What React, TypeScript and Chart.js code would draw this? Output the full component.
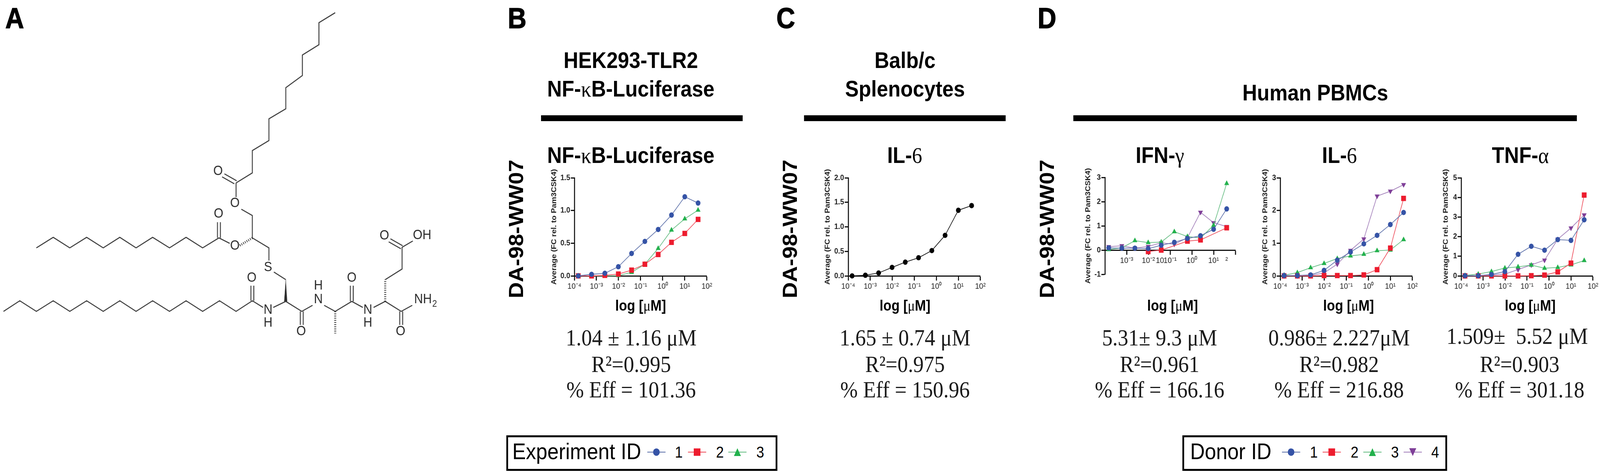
import React, { useEffect, useRef } from "react";
import { Chart, registerables } from "chart.js";

Chart.register(...registerables);

const SANS = '"Liberation Sans", Arial, sans-serif';
const SERIF = '"Liberation Serif", "Times New Roman", serif';

// the layout is measured on the 4563 px reference; the browser window came out
// only 4096 px wide, so the page is squeezed to whatever width it actually gets
const PAGE_W = 4563;
const PAGE_H = 1213;

const BLUE = "#3553a6";
const RED = "#ed1c2e";
const GREEN = "#22b14c";
const PURPLE = "#7f3f98";
const BLUE_LINE = "#5a6ea8";
const RED_LINE = "#ee4a58";
const GREEN_LINE = "#62bb80";
const PURPLE_LINE = "#a07cb8";

// 4-fold dilution series, uM
const doses = [0.00015, 0.0006, 0.0024, 0.0098, 0.039, 0.156, 0.625, 2.5, 10, 40];

const decadeTicks = [1e-4, 1e-3, 1e-2, 1e-1, 1, 10, 100];
const decadeLabels = ["10⁻⁴", "10⁻³", "10⁻²", "10⁻¹", "10⁰", "10¹", "10²"];

// IFN panel has its labels knocked about in the original
const ifnTicks = [1e-4, 1e-3, 1e-2, 0.034, 1e-1, 1, 10, 40, 100];
const ifnLabels = ["", "10⁻³", "10⁻²", "10", "10⁻¹", "10⁰", "10¹", "²", ""];
const ifnHiddenTicks = [0.034, 40];

// B: NF-kB luciferase
const nfkb1 = [0.0, 0.024, 0.04, 0.14, 0.343, 0.527, 0.71, 0.93, 1.21, 1.114];
const nfkb2 = [0.0, 0.0, 0.008, 0.028, 0.088, 0.178, 0.327, 0.513, 0.649, 0.864];
const nfkb3 = [0.0, 0.0, 0.0, 0.004, 0.054, 0.178, 0.42, 0.7, 0.872, 1.006];

// C: Balb/c IL-6
const balbIl6 = [0.0, 0.013, 0.06, 0.173, 0.28, 0.37, 0.516, 0.827, 1.338, 1.433];

// D: IFN-gamma
const ifn1 = [0.09, 0.08, 0.08, 0.06, 0.2, 0.32, 0.48, 0.59, 0.86, 1.7];
const ifn2 = [null, null, null, -0.06, 0.0, null, 0.37, 0.42, null, 0.92];
const ifn3 = [0.02, 0.09, 0.39, 0.31, 0.33, 0.76, 0.56, 0.5, 1.02, 2.75];
const ifn4 = [0.14, 0.18, 0.08, 0.15, 0.3, 0.24, 0.51, 1.56, 1.13, 0.97];

// D: IL-6
const il61 = [0.01, 0.01, 0.03, 0.17, 0.48, 0.73, 0.98, 1.24, 1.57, 1.94];
const il62 = [0.0, 0.0, 0.0, 0.01, 0.01, 0.01, 0.03, 0.19, 0.85, 2.37];
const il63 = [0.02, 0.1, 0.25, 0.38, 0.53, 0.61, 0.66, 0.77, 0.79, 1.11];
const il64 = [0.0, 0.0, 0.01, 0.09, 0.36, 0.78, 1.13, 2.44, 2.59, 2.79];

// D: TNF-alpha
const tnf1 = [0.01, 0.01, 0.07, 0.22, 1.1, 1.51, 1.31, 1.85, 1.81, 2.86];
const tnf2 = [0.0, 0.0, 0.0, 0.0, 0.0, 0.01, 0.04, 0.2, 0.65, 4.12];
const tnf3 = [0.02, 0.09, 0.22, 0.4, 0.46, 0.55, 0.39, 0.43, 0.56, 0.78];
const tnf4 = [0.0, 0.01, 0.04, 0.09, 0.32, 0.56, 0.8, 1.87, 2.44, 3.11];

// molecule in panel A, in a 1568 x 1568 drawing space
const moleculeBonds = [
  [[812, 605], [868, 572], [868, 498], [925, 465], [925, 393], [983, 360], [983, 290], [1040, 250], [1040, 182], [1097, 148], [1097, 75], [1153, 42]],
  [[812, 605], [812, 652]],
  [[830, 692], [868, 713], [868, 787], [925, 820], [925, 862]],
  [[942, 900], [983, 925]],
  [[790, 805], [753, 787], [697, 820], [640, 785], [583, 820], [525, 785], [468, 820], [412, 785], [355, 820], [298, 785], [240, 820], [183, 785], [125, 820]],
  [[12, 1030], [68, 995], [125, 1030], [183, 995], [240, 1030], [298, 995], [355, 1030], [412, 995], [468, 1030], [525, 995], [583, 1030], [640, 995], [697, 1030], [755, 995], [812, 1030], [868, 995], [905, 1017]],
  [[940, 1017], [983, 997], [1038, 1030], [1075, 1010]],
  [[1115, 1010], [1153, 1030], [1210, 997], [1248, 1017]],
  [[1285, 1017], [1325, 997], [1380, 1030], [1418, 1010]],
  [[1325, 925], [1383, 890], [1383, 818], [1420, 797]],
  // double bonds
  [[814, 598], [772, 575]],
  [[806, 608], [764, 585]],
  [[748, 787], [748, 735]],
  [[758, 787], [758, 735]],
  [[863, 995], [863, 945]],
  [[873, 995], [873, 945]],
  [[1033, 1030], [1033, 1075]],
  [[1043, 1030], [1043, 1075]],
  [[1205, 997], [1205, 945]],
  [[1215, 997], [1215, 945]],
  [[1375, 1030], [1375, 1075]],
  [[1385, 1030], [1385, 1075]],
  [[1385, 813], [1343, 790]],
  [[1379, 823], [1337, 800]],
];
const moleculeHashes = [
  [[868, 787], [825, 812]],
  [[1153, 1030], [1153, 1103]],
  [[1325, 997], [1325, 925]],
];
const moleculeWedge = [[983, 925], [978, 997], [988, 997]];
const atomLabels: [string, number, number][] = [
  ["O", 750, 567], ["O", 808, 672], ["O", 752, 708], ["O", 808, 813], ["S", 922, 884],
  ["O", 866, 920], ["N", 922, 1025], ["H", 922, 1068], ["O", 1036, 1097], ["H", 1095, 945],
  ["N", 1095, 990], ["O", 1210, 920], ["N", 1265, 1025], ["H", 1265, 1068], ["O", 1378, 1097],
  ["O", 1322, 780], ["OH", 1452, 778], ["NH", 1455, 990],
];
const subLabels: [string, number, number][] = [["2", 1495, 1006]];

const atomPlugin = {
  id: "atoms",
  afterDatasetsDraw(chart: any) {
    const { ctx, scales } = chart;
    ctx.save();
    ctx.fillStyle = "#2b2b2b";
    ctx.textAlign = "center";
    ctx.textBaseline = "middle";
    ctx.font = `35px ${SANS}`;
    atomLabels.forEach(([t, x, y]) => ctx.fillText(t, scales.x.getPixelForValue(x), scales.y.getPixelForValue(y)));
    ctx.font = `24px ${SANS}`;
    subLabels.forEach(([t, x, y]) => ctx.fillText(t, scales.x.getPixelForValue(x), scales.y.getPixelForValue(y)));
    ctx.restore();
  },
};

const toPts = (line: number[][]) => line.map(([x, y]) => ({ x, y }));

const Molecule: React.FC = () => {
  const ref = useRef<HTMLCanvasElement | null>(null);
  useEffect(() => {
    if (!ref.current) return;
    const base = { showLine: true, pointRadius: 0, tension: 0, clip: false as const, borderColor: "#3a3a3a" };
    const chart = new Chart(ref.current, {
      type: "scatter",
      data: {
        datasets: [
          ...moleculeBonds.map((l) => ({ ...base, data: toPts(l), borderWidth: 2.6 })),
          ...moleculeHashes.map((l) => ({ ...base, data: toPts(l), borderWidth: 6, borderDash: [2, 3.5] })),
          { ...base, data: toPts(moleculeWedge), borderWidth: 1, fill: "shape", backgroundColor: "#2b2b2b" },
        ] as any,
      },
      options: {
        animation: false,
        responsive: false,
        devicePixelRatio: 1,
        events: [],
        layout: { padding: 0 },
        plugins: { legend: { display: false }, tooltip: { enabled: false } },
        scales: {
          x: { display: false, min: 0, max: 1568 },
          y: { display: false, min: 0, max: 1568, reverse: true },
        },
      },
      plugins: [atomPlugin],
    });
    return () => chart.destroy();
  }, []);
  return <canvas ref={ref} width={1300} height={1213} style={{ position: "absolute", left: 0, top: 0 }} />;
};

type Series = { values: (number | null)[]; color: string; line: string; style: string; radius: number; rotation?: number };

const s1 = (values: (number | null)[]): Series => ({ values, color: BLUE, line: BLUE_LINE, style: "circle", radius: 6.8 });
const s2 = (values: (number | null)[]): Series => ({ values, color: RED, line: RED_LINE, style: "rect", radius: 9.6 });
const s3 = (values: (number | null)[]): Series => ({ values, color: GREEN, line: GREEN_LINE, style: "triangle", radius: 8 });
const s4 = (values: (number | null)[]): Series => ({ values, color: PURPLE, line: PURPLE_LINE, style: "triangle", radius: 8, rotation: 180 });

type PanelProps = {
  left: number;
  right: number;
  top: number;
  bottom: number;
  yMin: number;
  yMax: number;
  yStep: number;
  yDigits: number;
  titleGap: number;
  series: Series[];
  ticks?: number[];
  labels?: string[];
  hidden?: number[];
};

const LEFT_ROOM = 100;
const TOP_ROOM = 35;
const RIGHT_ROOM = 20;
const BOTTOM_ROOM = 60;

const Panel: React.FC<PanelProps> = ({ left, right, top, bottom, yMin, yMax, yStep, yDigits, titleGap, series, ticks = decadeTicks, labels = decadeLabels, hidden = [] }) => {
  const ref = useRef<HTMLCanvasElement | null>(null);
  useEffect(() => {
    if (!ref.current) return;
    const chart = new Chart(ref.current, {
      type: "scatter",
      data: {
        datasets: series.map((s) => ({
          data: doses.map((x, i) => ({ x, y: s.values[i] })).filter((p) => p.y !== null),
          showLine: true,
          tension: 0,
          clip: false,
          borderColor: s.line,
          borderWidth: 1.8,
          pointStyle: s.style,
          pointRadius: s.radius,
          pointRotation: s.rotation || 0,
          pointBackgroundColor: s.color,
          pointBorderColor: s.color,
          pointBorderWidth: 0,
        })) as any,
      },
      options: {
        animation: false,
        responsive: false,
        devicePixelRatio: 1,
        events: [],
        layout: { padding: { left: 0, top: TOP_ROOM, right: RIGHT_ROOM, bottom: BOTTOM_ROOM } },
        plugins: { legend: { display: false }, tooltip: { enabled: false } },
        scales: {
          x: {
            type: "logarithmic",
            position: { y: 0 } as any,
            min: 1e-4,
            max: 100,
            afterBuildTicks: (scale: any) => {
              scale.ticks = ticks.map((value) => ({ value }));
            },
            grid: {
              drawOnChartArea: false,
              tickLength: 10,
              tickWidth: 3,
              tickColor: (ctx: any) => (hidden.includes(ctx.tick?.value) ? "transparent" : "#111"),
            },
            border: { color: "#111", width: 3 },
            ticks: {
              autoSkip: false,
              maxRotation: 0,
              padding: 5,
              color: "#222",
              font: { family: SANS, size: 21 },
              callback: (value: any) => labels[ticks.indexOf(value)] ?? "",
            },
          },
          y: {
            min: yMin,
            max: yMax,
            afterFit: (scale: any) => {
              scale.width = LEFT_ROOM;
            },
            grid: { drawOnChartArea: false, tickLength: 10, tickWidth: 3, tickColor: "#111" },
            border: { color: "#111", width: 3 },
            ticks: {
              stepSize: yStep,
              padding: 2,
              color: "#222",
              font: { family: SANS, size: 20, weight: "bold" },
              callback: (value: any) => Number(value).toFixed(yDigits),
            },
            title: {
              display: true,
              text: "Average (FC rel. to Pam3CSK4)",
              color: "#222",
              font: { family: SANS, size: 20, weight: "bold" },
              padding: { top: LEFT_ROOM - titleGap - 12, bottom: 0 },
            },
          },
        },
      },
    });
    return () => chart.destroy();
  }, []);
  return (
    <canvas
      ref={ref}
      width={right - left + LEFT_ROOM + RIGHT_ROOM}
      height={bottom - top + TOP_ROOM + BOTTOM_ROOM}
      style={{ position: "absolute", left: left - LEFT_ROOM, top: top - TOP_ROOM }}
    />
  );
};

// text helper, x is the centre (or left edge), base the baseline
const T: React.FC<{ x: number; base: number; size: number; bold?: boolean; serif?: boolean; anchor?: string; color?: string; stroke?: number; children: React.ReactNode }> = ({ x, base, size, bold, serif, anchor = "center", color = "#000", stroke, children }) => (
  <div
    style={{
      position: "absolute",
      left: x,
      top: base - size * 0.85,
      lineHeight: `${size}px`,
      fontSize: size,
      fontFamily: serif ? SERIF : SANS,
      fontWeight: bold ? 700 : 400,
      color,
      whiteSpace: "pre",
      WebkitTextStroke: stroke ? `${stroke}px ${color}` : undefined,
      transform: anchor === "center" ? "translateX(-50%)" : undefined,
    }}
  >
    {children}
  </div>
);

const Greek: React.FC<{ children: React.ReactNode }> = ({ children }) => <span style={{ fontFamily: SERIF, fontWeight: 400 }}>{children}</span>;

const Vertical: React.FC<{ x: number; y: number }> = ({ x, y }) => (
  <div
    style={{
      position: "absolute",
      left: x,
      top: y,
      fontFamily: SANS,
      fontWeight: 700,
      fontSize: 57,
      whiteSpace: "nowrap",
      lineHeight: 1,
      transform: "translate(-50%, -50%) rotate(-90deg)",
    }}
  >
    DA-98-WW07
  </div>
);

const Rule: React.FC<{ x1: number; x2: number }> = ({ x1, x2 }) => <div style={{ position: "absolute", left: x1, width: x2 - x1, top: 295, height: 15, background: "#000" }} />;

const LegendBox: React.FC<{ x1: number; x2: number }> = ({ x1, x2 }) => (
  <div style={{ position: "absolute", left: x1, width: x2 - x1, top: 1114, height: 91, border: "5px solid #000", boxSizing: "border-box" }} />
);

const LegendKey: React.FC<{ x: number; kind: number; label: string; labelX: number }> = ({ x, kind, label, labelX }) => {
  const cy = 1156.5;
  const colors = [BLUE, RED, GREEN, PURPLE];
  const lines = [BLUE_LINE, RED_LINE, GREEN_LINE, PURPLE_LINE];
  return (
    <>
      <svg style={{ position: "absolute", left: x - 30, top: cy - 15 }} width={60} height={30} viewBox="-30 -15 60 30">
        <line x1={-26} x2={26} y1={0} y2={0} stroke={lines[kind]} strokeWidth={2} />
        {kind === 0 && <circle r={9.5} fill={colors[0]} />}
        {kind === 1 && <rect x={-9.5} y={-9.5} width={19} height={19} fill={colors[1]} />}
        {kind === 2 && <polygon points="0,-10 10,10 -10,10" fill={colors[2]} />}
        {kind === 3 && <polygon points="0,10 10,-10 -10,-10" fill={colors[3]} />}
      </svg>
      <T x={labelX} base={1171} size={40}>{label}</T>
    </>
  );
};

const Stats: React.FC<{ x: number; first: string; r2: string; eff: string; x2?: number; firstBase?: number }> = ({ x, first, r2, eff, x2, firstBase = 885 }) => (
  <>
    <T x={x} base={firstBase} size={60} serif color="#1a1a1a">{first}</T>
    <T x={x2 ?? x} base={953} size={60} serif color="#1a1a1a">{r2}</T>
    <T x={x2 ?? x} base={1018} size={60} serif color="#1a1a1a">{eff}</T>
  </>
);

const LogLabel: React.FC<{ x: number }> = ({ x }) => (
  <T x={x} base={795} size={38} bold>
    log [<Greek>μ</Greek>M]
  </T>
);

const App: React.FC = () => {
  const squeeze = Math.min(1, window.innerWidth / PAGE_W);
  return (
    <div style={{ position: "relative", width: PAGE_W * squeeze, height: PAGE_H, overflow: "hidden" }}>
      <style>{`body{margin:0}`}</style>
      <div style={{ position: "absolute", left: 0, top: 0, width: PAGE_W, height: PAGE_H, background: "#fff", transform: `scaleX(${squeeze})`, transformOrigin: "0 0" }}>
        <Molecule />

        <T x={15} base={73} size={74} bold anchor="left" stroke={1.5}>A</T>
        <T x={1448} base={73} size={74} bold anchor="left" stroke={1.5}>B</T>
        <T x={2214} base={73} size={74} bold anchor="left" stroke={1.5}>C</T>
        <T x={2959} base={73} size={74} bold anchor="left" stroke={1.5}>D</T>

        <T x={1799} base={174} size={58} bold>HEK293-TLR2</T>
        <T x={1799} base={247} size={58} bold>NF-<Greek>κ</Greek>B-Luciferase</T>
        <T x={2581} base={174} size={58} bold>Balb/c</T>
        <T x={2581} base={247} size={58} bold>Splenocytes</T>
        <T x={3751} base={257} size={58} bold>Human PBMCs</T>

        <Rule x1={1543} x2={2118} />
        <Rule x1={2293} x2={2868} />
        <Rule x1={3061} x2={4497} />

        <T x={1799} base={417} size={58} bold>NF-<Greek>κ</Greek>B-Luciferase</T>
        <T x={2580} base={417} size={58} bold>IL-<Greek>6</Greek></T>
        <T x={3308} base={417} size={58} bold>IFN-<Greek>γ</Greek></T>
        <T x={3820} base={417} size={58} bold>IL-<Greek>6</Greek></T>
        <T x={4336} base={417} size={58} bold>TNF-<Greek>α</Greek></T>

        <Vertical x={1472} y={586} />
        <Vertical x={2253} y={586} />
        <Vertical x={2986} y={586} />

        <Panel left={1638} right={2016} top={455} bottom={706} yMin={0} yMax={1.5} yStep={0.5} yDigits={1} titleGap={58} series={[s1(nfkb1), s2(nfkb2), s3(nfkb3)]} />
        <Panel
          left={2419}
          right={2796}
          top={455}
          bottom={706}
          yMin={0}
          yMax={2}
          yStep={0.5}
          yDigits={1}
          titleGap={59}
          series={[{ values: balbIl6, color: "#000", line: "#111", style: "circle", radius: 6.8 }]}
        />
        <Panel left={3151} right={3523} top={454} bottom={702} yMin={-1} yMax={3} yStep={1} yDigits={0} titleGap={48} series={[s1(ifn1), s2(ifn2), s3(ifn3), s4(ifn4)]} ticks={ifnTicks} labels={ifnLabels} hidden={ifnHiddenTicks} />
        <Panel left={3651} right={4028} top={455} bottom={706} yMin={0} yMax={3} yStep={1} yDigits={0} titleGap={43} series={[s1(il61), s2(il62), s3(il63), s4(il64)]} />
        <Panel left={4167} right={4543} top={455} bottom={706} yMin={0} yMax={5} yStep={1} yDigits={0} titleGap={44} series={[s1(tnf1), s2(tnf2), s3(tnf3), s4(tnf4)]} />

        <LogLabel x={1827} />
        <LogLabel x={2581} />
        <LogLabel x={3344} />
        <LogLabel x={3846} />
        <LogLabel x={4364} />

        <Stats x={1800} first="1.04 ± 1.16 μM" r2="R²=0.995" eff="% Eff = 101.36" />
        <Stats x={2581} first="1.65 ± 0.74 μM" r2="R²=0.975" eff="% Eff = 150.96" />
        <Stats x={3307} first="5.31± 9.3 μM" r2="R²=0.961" eff="% Eff = 166.16" />
        <Stats x={3819} first="0.986± 2.227μM" r2="R²=0.982" eff="% Eff = 216.88" />
        <Stats x={4327} x2={4334} firstBase={881} first="1.509±  5.52 μM" r2="R²=0.903" eff="% Eff = 301.18" />

        <LegendBox x1={1444} x2={2217} />
        <T x={1461} base={1175} size={58} anchor="left">Experiment ID</T>
        <LegendKey x={1872} kind={0} label="1" labelX={1936} />
        <LegendKey x={1988} kind={1} label="2" labelX={2053} />
        <LegendKey x={2103} kind={2} label="3" labelX={2168} />

        <LegendBox x1={3372} x2={4127} />
        <T x={3394} base={1175} size={58} anchor="left">Donor ID</T>
        <LegendKey x={3682} kind={0} label="1" labelX={3747} />
        <LegendKey x={3798} kind={1} label="2" labelX={3863} />
        <LegendKey x={3914} kind={2} label="3" labelX={3978} />
        <LegendKey x={4029} kind={3} label="4" labelX={4093} />
      </div>
    </div>
  );
};

export default App;
